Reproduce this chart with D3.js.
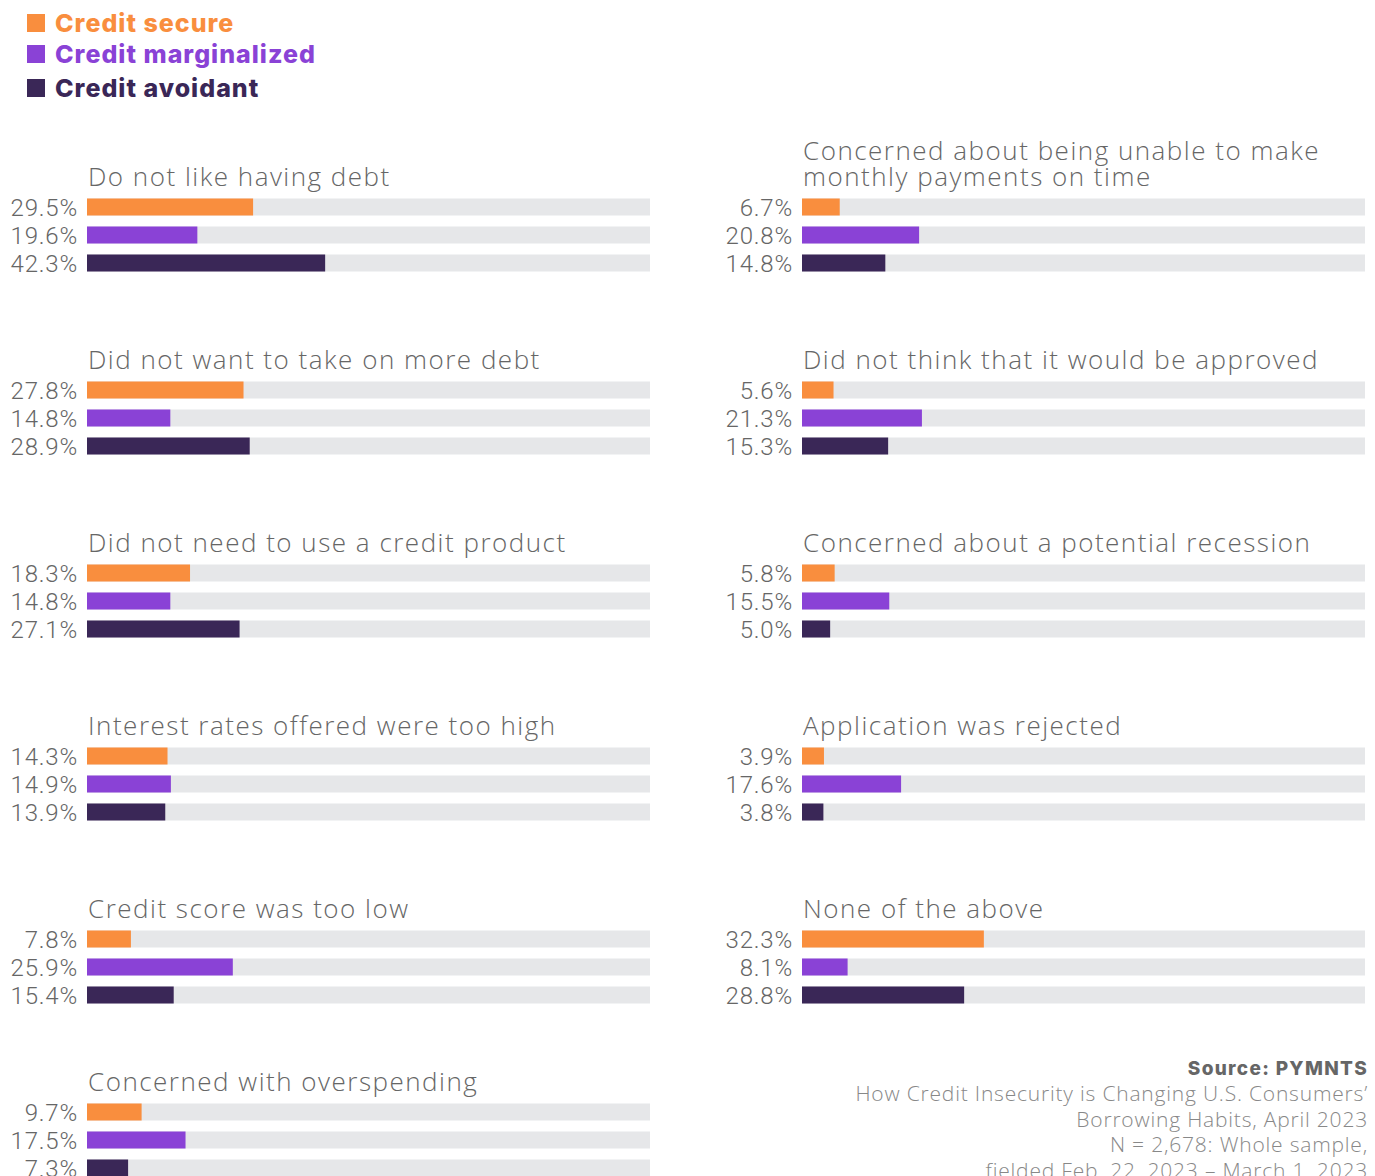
<!DOCTYPE html>
<html>
<head>
<meta charset="utf-8">
<script src="https://cdnjs.cloudflare.com/ajax/libs/d3/7.8.5/d3.min.js"></script>
<style>
  body { margin: 0; background: #fff; }
  svg { display: block; }
</style>
</head>
<body>
<script>
// reasons, left column first (top to bottom), then right column
const categories = [
  "Do not like having debt",
  "Did not want to take on more debt",
  "Did not need to use a credit product",
  "Interest rates offered were too high",
  "Credit score was too low",
  "Concerned with overspending",
  "Concerned about being unable to make\nmonthly payments on time",
  "Did not think that it would be approved",
  "Concerned about a potential recession",
  "Application was rejected",
  "None of the above"
];
const segments = ["Credit secure", "Credit marginalized", "Credit avoidant"];
const secure       = [29.5, 27.8, 18.3, 14.3, 7.8, 9.7, 6.7, 5.6, 5.8, 3.9, 32.3];
const marginalized = [19.6, 14.8, 14.8, 14.9, 25.9, 17.5, 20.8, 21.3, 15.5, 17.6, 8.1];
const avoidant     = [42.3, 28.9, 27.1, 13.9, 15.4, 7.3, 14.8, 15.3, 5.0, 3.8, 28.8];
const sourceLines = [
  "How Credit Insecurity is Changing U.S. Consumers’",
  "Borrowing Habits, April 2023",
  "N = 2,678: Whole sample,",
  "fielded Feb. 22, 2023 – March 1, 2023"
];

const w = 1375, h = 1176;
const colors = ["#F98E3E", "#8A42D6", "#3A2757"];
const series = [secure, marginalized, avoidant];

const svg = d3.select("body").append("svg")
  .attr("width", w).attr("height", h);

// legend
const legend = svg.append("g");
segments.forEach((s, i) => {
  const y = [23, 54, 88][i];
  legend.append("rect").attr("x", 27).attr("y", y - 9).attr("width", 18).attr("height", 18)
    .attr("fill", colors[i]);
  legend.append("text").attr("x", 55).attr("y", y).attr("dy", "0.35em")
    .attr("fill", colors[i])
    .style("font-family", "Inter").style("font-weight", 800).style("font-size", "25px")
    .style("letter-spacing", "1px")
    .text(s);
});

const colX = [87, 802];
const trackW = 563;
const x = d3.scaleLinear().domain([0, 100]).range([0, trackW]);
// last group sits a little closer, as in the original layout
const groupY = d3.scaleLinear().domain([0, 4, 5]).range([207, 939, 1112]);
const rowY = d3.scaleBand().domain([0, 1, 2]).range([-8.5, 64.5]).paddingInner(11 / 28);

categories.forEach((cat, i) => {
  const col = i < 6 ? 0 : 1;
  const row = col ? i - 6 : i;
  const g = svg.append("g")
    .attr("transform", "translate(" + colX[col] + "," + groupY(row) + ")");

  const lines = cat.split("\n");
  const title = g.append("text")
    .attr("y", -21 - (lines.length - 1) * 26)
    .attr("fill", "#666")
    .style("font-family", "Open Sans").style("font-weight", 300).style("font-size", "26px")
    .style("letter-spacing", "1.5px");
  lines.forEach((ln, k) => {
    title.append("tspan").attr("x", 1).attr("dy", k ? 26 : 0).text(ln);
  });

  series.forEach((vals, j) => {
    const y0 = rowY(j);
    g.append("rect").attr("x", 0).attr("y", y0)
      .attr("width", trackW).attr("height", rowY.bandwidth())
      .attr("fill", "#E6E7E9");
    g.append("rect").attr("x", 0).attr("y", y0)
      .attr("width", x(vals[i])).attr("height", rowY.bandwidth())
      .attr("fill", colors[j]);
    g.append("text")
      .attr("x", -9).attr("y", y0 + rowY.bandwidth() / 2).attr("dy", "0.36em")
      .attr("text-anchor", "end")
      .attr("fill", "#666")
      .style("font-family", "Roboto").style("font-weight", 300).style("font-size", "24px")
      .style("letter-spacing", "0.8px")
      .text(vals[i].toFixed(1) + "%");
  });
});

// source note
const src = svg.append("g").attr("text-anchor", "end");
src.append("text").attr("x", 1368).attr("y", 1075)
  .attr("fill", "#666")
  .style("font-family", "Inter").style("font-weight", 800).style("font-size", "19px")
  .style("letter-spacing", "1.3px")
  .text("Source: PYMNTS");
const note = src.append("text").attr("y", 1101)
  .attr("fill", "#888")
  .style("font-family", "Open Sans").style("font-weight", 300).style("font-size", "21px")
  .style("letter-spacing", "0.8px");
sourceLines.forEach((t, k) => {
  note.append("tspan").attr("x", 1368).attr("dy", k ? 25.5 : 0).text(t);
});
</script>
</body>
</html>
